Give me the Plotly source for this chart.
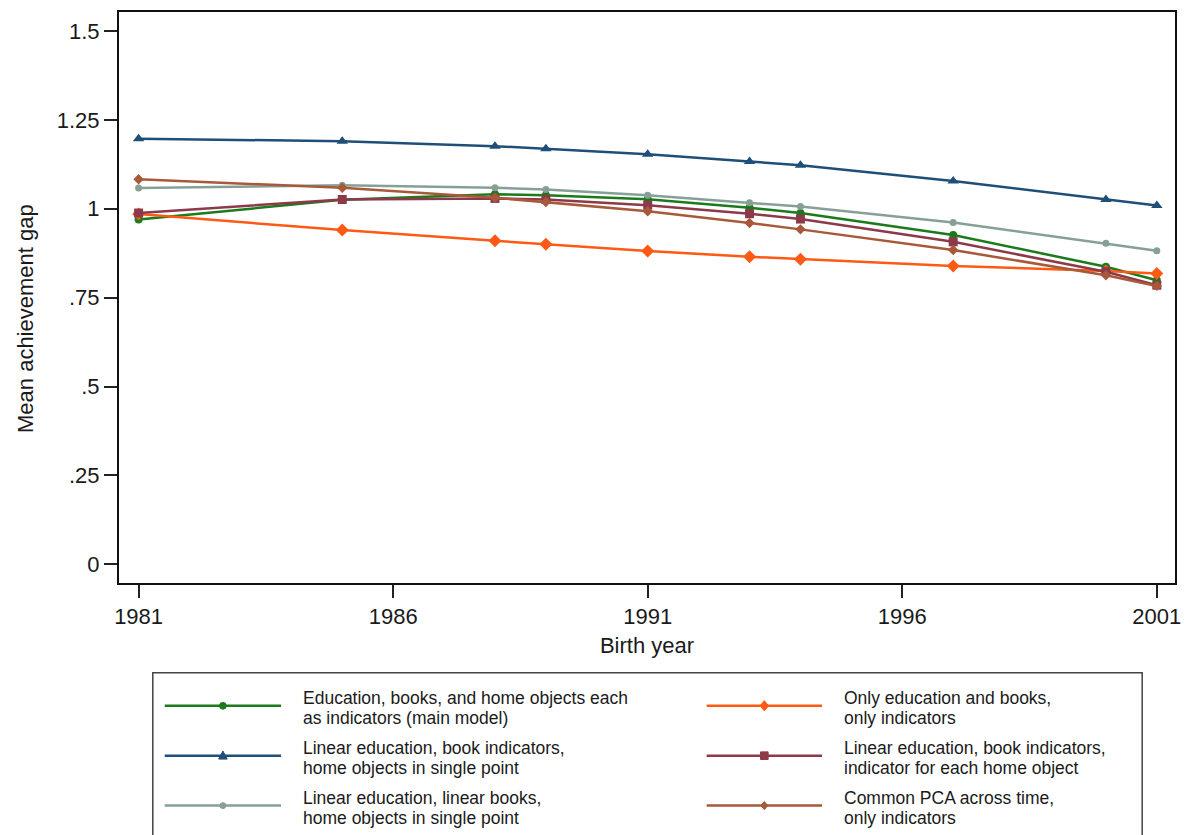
import plotly.graph_objects as go

# ---------------- data ----------------
years = [1981, 1985, 1988, 1989, 1991, 1993, 1994, 1997, 2000, 2001]

main_model = [0.970, 1.025, 1.041, 1.038, 1.027, 1.003, 0.988, 0.926, 0.837, 0.799]
only_edu_books = [0.985, 0.940, 0.910, 0.900, 0.881, 0.865, 0.858, 0.839, 0.825, 0.818]
lin_edu_book_ind_single = [1.197, 1.190, 1.176, 1.169, 1.153, 1.133, 1.122, 1.078, 1.026, 1.009]
lin_edu_book_ind_each = [0.988, 1.026, 1.029, 1.026, 1.010, 0.986, 0.971, 0.907, 0.823, 0.785]
lin_edu_lin_books_single = [1.058, 1.066, 1.059, 1.054, 1.038, 1.017, 1.006, 0.961, 0.903, 0.882]
common_pca = [1.083, 1.059, 1.031, 1.019, 0.993, 0.960, 0.942, 0.884, 0.813, 0.783]

series_names = [
    ["Education, books, and home objects each", "as indicators (main model)"],
    ["Only education and books,", "only indicators"],
    ["Linear education, book indicators,", "home objects in single point"],
    ["Linear education, book indicators,", "indicator for each home object"],
    ["Linear education, linear books,", "home objects in single point"],
    ["Common PCA across time,", "only indicators"],
]
series_values = [main_model, only_edu_books, lin_edu_book_ind_single,
                 lin_edu_book_ind_each, lin_edu_lin_books_single, common_pca]

x_tick_vals = [1981, 1986, 1991, 1996, 2001]
y_tick_vals = [0, 0.25, 0.5, 0.75, 1, 1.25, 1.5]
y_tick_text = ["0", ".25", ".5", ".75", "1", "1.25", "1.5"]
x_title = "Birth year"
y_title = "Mean achievement gap"

# ---------------- styles ----------------
colors = ["#1b7a1b", "#ff5a14", "#1f4e79", "#8c3a4a", "#86a096", "#a8593a"]
symbols = ["circle", "diamond", "triangle-up", "square", "circle", "diamond"]
msizes = [8, 10, 10, 9, 7, 8]

FONT = "Liberation Sans, Arial, sans-serif"
W, H = 1191, 835
L, R, T, B = 119, 1181, 11, 583

fig = go.Figure()
for name, vals, c, s, ms in zip(series_names, series_values, colors, symbols, msizes):
    fig.add_trace(go.Scatter(
        x=years, y=vals, mode="lines+markers", name=" ".join(name),
        line=dict(color=c, width=2.5),
        marker=dict(symbol=s, size=ms, color=c),
        showlegend=False,
    ))

# ---------------- custom legend (Stata-like box) ----------------
def pxx(x):
    return (x - L) / (R - L)

def pyy(y):
    return (B - y) / (B - T)

shapes = []
annotations = []
shapes.append(dict(type="rect", xref="paper", yref="paper",
                   x0=pxx(153), x1=pxx(1148), y0=pyy(880), y1=pyy(673),
                   line=dict(color="#444444", width=1.5), fillcolor="rgba(0,0,0,0)"))

col_line = [(165, 282), (710, 826)]
col_text = [302, 846]
row_y = [706, 756, 806]

def marker_shape(sym, cx, cy, size, color):
    r = size / 2.0
    if sym == "circle":
        return dict(type="circle", xref="paper", yref="paper",
                    x0=pxx(cx - r), x1=pxx(cx + r), y0=pyy(cy + r), y1=pyy(cy - r),
                    line=dict(color=color, width=1), fillcolor=color)
    if sym == "square":
        pts = [(cx - r, cy - r), (cx + r, cy - r), (cx + r, cy + r), (cx - r, cy + r)]
    elif sym == "diamond":
        pts = [(cx, cy - r * 1.2), (cx + r, cy), (cx, cy + r * 1.2), (cx - r, cy)]
    else:
        pts = [(cx, cy - r * 1.1), (cx + r, cy + r * 0.8), (cx - r, cy + r * 0.8)]
    path = "M " + " L ".join(f"{pxx(a):.5f},{pyy(b):.5f}" for a, b in pts) + " Z"
    return dict(type="path", xref="paper", yref="paper", path=path,
                line=dict(color=color, width=1), fillcolor=color)

for i, (name, c, s, ms) in enumerate(zip(series_names, colors, symbols, msizes)):
    row, col = i // 2, i % 2
    x0, x1 = col_line[col]
    y = row_y[row]
    shapes.append(dict(type="line", xref="paper", yref="paper",
                       x0=pxx(x0), x1=pxx(x1), y0=pyy(y), y1=pyy(y),
                       line=dict(color=c, width=2.5)))
    shapes.append(marker_shape(s, (x0 + x1) / 2, y, ms * 0.85, c))
    for k, line_text in enumerate(name):
        annotations.append(dict(
            xref="paper", yref="paper", x=pxx(col_text[col]), y=pyy(y - 8 + k * 20),
            text=line_text, showarrow=False, xanchor="left", yanchor="middle",
            font=dict(family=FONT, size=17.5, color="#1a1a1a"),
        ))

# y-axis title placed like Stata (slightly below plot centre)
annotations.append(dict(
    xref="paper", yref="paper", x=pxx(25), y=pyy(318), text=y_title,
    textangle=-90, showarrow=False, xanchor="center", yanchor="middle",
    font=dict(family=FONT, size=22, color="#1a1a1a"),
))

fig.update_layout(
    width=W, height=H,
    margin=dict(l=L, r=W - R, t=T, b=H - B, pad=0),
    paper_bgcolor="white", plot_bgcolor="white",
    font=dict(family=FONT, color="#1a1a1a"),
    shapes=shapes, annotations=annotations,
    xaxis=dict(range=[1980.615, 2001.357], tickvals=x_tick_vals,
               ticks="outside", ticklen=13, tickwidth=1.5, tickcolor="#222",
               showline=True, linewidth=2, linecolor="#111", mirror=True,
               showgrid=False, zeroline=False,
               tickfont=dict(size=22, family=FONT),
               title=dict(text=x_title, font=dict(size=22, family=FONT), standoff=9)),
    yaxis=dict(range=[-0.0525, 1.5533], tickvals=y_tick_vals, ticktext=y_tick_text,
               ticks="outside", ticklen=13, tickwidth=1.5, tickcolor="#222",
               showline=True, linewidth=2, linecolor="#111", mirror=True,
               showgrid=False, zeroline=False,
               tickfont=dict(size=22, family=FONT)),
)

fig.write_html("out.html")
